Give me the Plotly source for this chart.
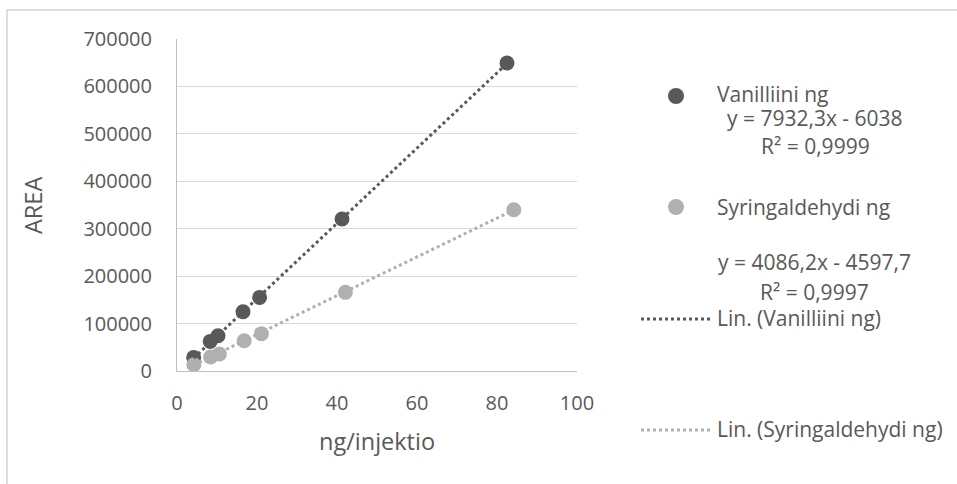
import plotly.graph_objects as go

# Calibration standards: injected amount (ng) vs. peak area
van_ng = [4.17, 8.3, 10.25, 16.5, 20.65, 41.25, 82.5]
van_area = [28700, 62400, 74400, 125000, 155200, 320500, 649400]
syr_ng = [4.2, 8.4, 10.6, 16.8, 21.1, 42.1, 84.2]
syr_area = [13300, 29500, 35800, 63900, 78700, 165800, 340100]

# Linear fits: slope, intercept
van_fit = (7932.3, -6038.0)
syr_fit = (4086.2, -4597.7)
van_label = ["y = 7932,3x - 6038", "R² = 0,9999"]
syr_label = ["y = 4086,2x - 4597,7", "R² = 0,9997"]

x_ticks = [0, 20, 40, 60, 80, 100]
y_ticks = [0, 100000, 200000, 300000, 400000, 500000, 600000, 700000]

DARK = "#595959"
LIGHT = "#b0b0b0"
TEXT = "#595959"
FONT = "Open Sans"

W, H = 957, 484
L, R, T, B = 177, 577, 39, 371  # plot area in pixels


def px(x):
    return (x - L) / (R - L)


def py(y):
    return (B - y) / (B - T)


def fit_line(ng, fit):
    xs = [min(ng), max(ng)]
    return xs, [fit[0] * v + fit[1] for v in xs]


fig = go.Figure()
fig.add_trace(go.Scatter(x=van_ng, y=van_area, mode="markers",
                         marker=dict(color=DARK, size=15), name="Vanilliini ng"))
fig.add_trace(go.Scatter(x=syr_ng, y=syr_area, mode="markers",
                         marker=dict(color=LIGHT, size=15), name="Syringaldehydi ng"))
vx, vy = fit_line(van_ng, van_fit)
fig.add_trace(go.Scatter(x=vx, y=vy, mode="lines",
                         line=dict(color=DARK, width=3, dash="3px,3px"),
                         name="Lin. (Vanilliini ng)"))
sx, sy = fit_line(syr_ng, syr_fit)
fig.add_trace(go.Scatter(x=sx, y=sy, mode="lines",
                         line=dict(color=LIGHT, width=3, dash="3px,3px"),
                         name="Lin. (Syringaldehydi ng)"))

shapes = [
    # chart frame
    dict(type="rect", xref="paper", yref="paper",
         x0=px(7), x1=px(W + 20), y0=py(H + 20), y1=py(10),
         line=dict(color="#d4d4d4", width=1.5), layer="below"),
    # legend symbols
    dict(type="circle", xref="paper", yref="paper",
         xsizemode="pixel", ysizemode="pixel",
         xanchor=px(676), yanchor=py(96), x0=-8, x1=8, y0=-8, y1=8,
         fillcolor=DARK, line=dict(width=0)),
    dict(type="circle", xref="paper", yref="paper",
         xsizemode="pixel", ysizemode="pixel",
         xanchor=px(676), yanchor=py(207), x0=-8, x1=8, y0=-8, y1=8,
         fillcolor=LIGHT, line=dict(width=0)),
    dict(type="line", xref="paper", yref="paper",
         x0=px(641), x1=px(711), y0=py(319), y1=py(319),
         line=dict(color=DARK, width=3, dash="3px,3px")),
    dict(type="line", xref="paper", yref="paper",
         x0=px(641), x1=px(711), y0=py(430), y1=py(430),
         line=dict(color=LIGHT, width=3, dash="3px,3px")),
]

annotations = []


def note(text, x, y, anchor="left", size=21, angle=0):
    annotations.append(dict(text=text, xref="paper", yref="paper",
                             x=px(x), y=py(y), xanchor=anchor, yanchor="middle",
                             showarrow=False, textangle=angle,
                             font=dict(family=FONT, size=size, color=TEXT)))


note("Vanilliini ng", 715, 94)
note(van_label[0], 815, 118, anchor="center")
note(van_label[1], 815, 146, anchor="center")
note("Syringaldehydi ng", 715, 207)
note(syr_label[0], 814, 262, anchor="center")
note(syr_label[1], 814, 292, anchor="center")
note("Lin. (Vanilliini ng)", 715, 318)
note("Lin. (Syringaldehydi ng)", 715, 429)
# axis titles
note("ng/injektio", 377, 441, anchor="center", size=23.5)
note("AREA", 33, 206, anchor="center", size=23.5, angle=-90)

fig.update_layout(
    width=W, height=H,
    margin=dict(l=L, r=W - R, t=T, b=H - B),
    paper_bgcolor="white", plot_bgcolor="white",
    showlegend=False,
    shapes=shapes, annotations=annotations,
    font=dict(family=FONT, color=TEXT),
)
fig.update_xaxes(range=[0, 100], tickvals=x_ticks, showgrid=False,
                 showline=True, linecolor="#bfbfbf", linewidth=1,
                 zeroline=False, ticks="", ticklabelstandoff=14,
                 tickfont=dict(family=FONT, size=20, color=TEXT))
fig.update_yaxes(range=[0, 700000], tickvals=y_ticks, tickformat="d",
                 showgrid=True, gridcolor="#d9d9d9", gridwidth=1,
                 showline=True, linecolor="#bfbfbf", linewidth=1,
                 zeroline=False, ticks="", ticklabelstandoff=20,
                 tickfont=dict(family=FONT, size=20, color=TEXT))

fig.write_html("out.html")
